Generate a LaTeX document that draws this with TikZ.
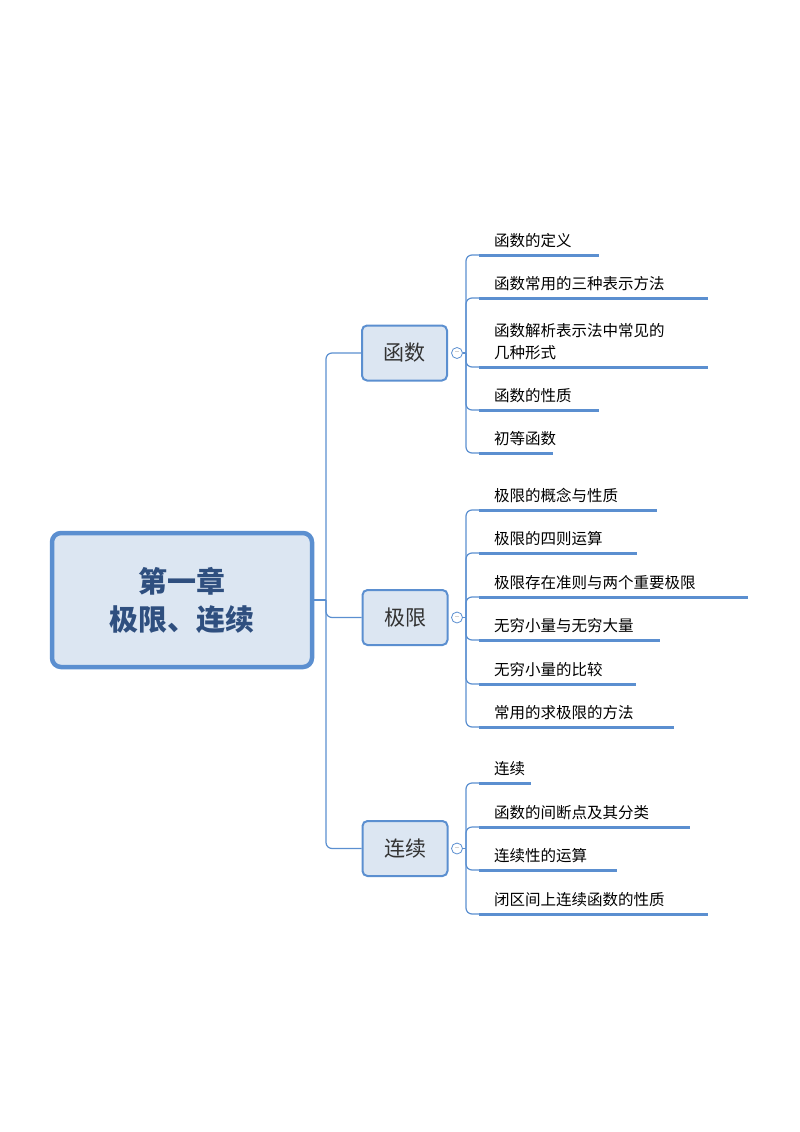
\documentclass[tikz,border=0pt]{standalone}
\usepackage{fontspec}
\newfontfamily\cjk{Noto Sans CJK SC}
\definecolor{lb}{HTML}{5B8FD0}
\definecolor{fillb}{HTML}{DCE6F2}
\definecolor{tb}{HTML}{2F4F7F}
\begin{document}
\begin{tikzpicture}[x=1pt,y=-1pt,
  root/.style={draw=lb,line width=4.5pt,fill=fillb,rounded corners=9pt,minimum width=260pt,minimum height=134pt,align=center,font=\cjk\bfseries\fontsize{29}{38}\selectfont,text=tb},
  mid/.style={draw=lb,line width=2pt,fill=fillb,rounded corners=5pt,minimum width=85pt,minimum height=55pt,font=\cjk\fontsize{21}{24}\selectfont,text=black!80},
  leaf/.style={anchor=south west,inner sep=0pt,font=\cjk\fontsize{15.5}{22}\selectfont,align=left},
  conn/.style={draw=lb,line width=1.2pt,rounded corners=6pt},
  ul/.style={draw=lb,line width=3pt},
  tog/.style={circle,draw=lb,fill=white,line width=0.8pt,minimum size=11pt,inner sep=0pt,font=\fontsize{7}{7}\selectfont}]
\useasboundingbox (0,0) rectangle (800,1132);
\node[root] (R) at (182,600) {第一章\\极限、连续};
\node[mid] (A) at (404.5,353) {函数};
\node[mid] (B) at (405,617.5) {极限};
\node[mid] (C) at (405,848.5) {连续};
\coordinate (T) at (326,600);
\draw[conn] (R.east) -- (T);
\draw[conn] (T) |- (A.west);
\draw[conn] (T) |- (B.west);
\draw[conn] (T) |- (C.west);
\foreach \m/\y in {A/353,B/617.5,C/848.5}{
  \node[tog] (\m t) at (457,\y) {--};
  \coordinate (\m j) at (466,\y);
  \draw[conn] (\m t.east) -- (\m j);
}
% leaves: name/group/y/end/text
\foreach \n/\g/\y/\e/\t in {
 a1/A/255/599/函数的定义,
 a2/A/298/708/函数常用的三种表示方法,
 a3/A/367/708/{函数解析表示法中常见的\\几种形式},
 a4/A/410/599/函数的性质,
 a5/A/453/553/初等函数,
 b1/B/510/657/极限的概念与性质,
 b2/B/553/637/极限的四则运算,
 b3/B/597/748/极限存在准则与两个重要极限,
 b4/B/640/660/无穷小量与无穷大量,
 b5/B/684/636/无穷小量的比较,
 b6/B/727/674/常用的求极限的方法,
 c1/C/783/531/连续,
 c2/C/827/690/函数的间断点及其分类,
 c3/C/870/617/连续性的运算,
 c4/C/914/708/闭区间上连续函数的性质}{
  \coordinate (\n s) at (479,\y);
  \coordinate (\n e) at (\e,\y);
  \draw[conn] (\g j) |- (\n s);
  \draw[ul] (\n s) -- (\n e);
  \node[leaf] (\n) at (494,\y-7) {\t};
}
\end{tikzpicture}
\end{document}
